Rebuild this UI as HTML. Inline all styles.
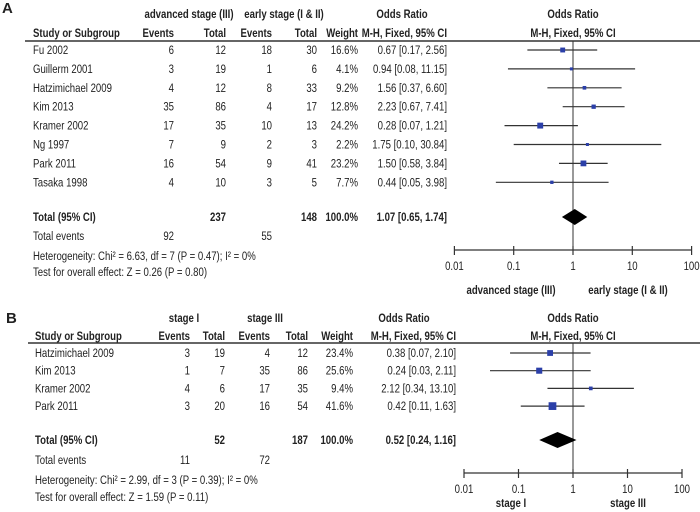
<!DOCTYPE html>
<html><head><meta charset="utf-8">
<style>
html,body{margin:0;padding:0;background:#fff;width:700px;height:512px;overflow:hidden}
svg{display:block}
text{font-family:"Liberation Sans",sans-serif;font-size:12px;fill:#222}
.b{font-weight:bold}
</style></head><body>
<svg id="chart" width="700" height="512" viewBox="0 0 700 512" xmlns="http://www.w3.org/2000/svg"></svg>
<script>
// Panel A data
const studiesA = ["Fu 2002","Guillerm 2001","Hatzimichael 2009","Kim 2013","Kramer 2002","Ng 1997","Park 2011","Tasaka 1998"];
const ev1A = [6,3,4,35,17,7,16,4];
const tot1A = [12,19,12,86,35,9,54,10];
const ev2A = [18,1,8,4,10,2,9,3];
const tot2A = [30,6,33,17,13,3,41,5];
const weightA = [16.6,4.1,9.2,12.8,24.2,2.2,23.2,7.7];
const orA = [0.67,0.94,1.56,2.23,0.28,1.75,1.50,0.44];
const loA = [0.17,0.08,0.37,0.67,0.07,0.10,0.58,0.05];
const hiA = [2.56,11.15,6.60,7.41,1.21,30.84,3.84,3.98];
const totalA = {or:1.07, lo:0.65, hi:1.74, tot1:237, tot2:148, ev1:92, ev2:55};
// Panel B data
const studiesB = ["Hatzimichael 2009","Kim 2013","Kramer 2002","Park 2011"];
const ev1B = [3,1,4,3];
const tot1B = [19,7,6,20];
const ev2B = [4,35,17,16];
const tot2B = [12,86,35,54];
const weightB = [23.4,25.6,9.4,41.6];
const orB = [0.38,0.24,2.12,0.42];
const loB = [0.07,0.03,0.34,0.11];
const hiB = [2.10,2.11,13.10,1.63];
const totalB = {or:0.52, lo:0.24, hi:1.16, tot1:52, tot2:187, ev1:11, ev2:72};
const ticks = [0.01,0.1,1,10,100];
const tickLabels = ["0.01","0.1","1","10","100"];

const svg = document.getElementById('chart');
const NS = "http://www.w3.org/2000/svg";
const SX = 0.8;
function mk(tag, attrs, name){
  const e = document.createElementNS(NS, tag);
  for (const k in attrs) e.setAttribute(k, attrs[k]);
  
  
  svg.appendChild(e); return e;
}
function txt(x,y,s,anchor,bold,name){
  const t = mk('text',{x:0,y:0,'text-anchor':anchor||'start',transform:`translate(${x},${y+4}) scale(${SX},1)`},name);
  if(bold) t.setAttribute('class','b');
  t.textContent = s; return t;
}
const f2 = v => v.toFixed(2);

function panel(P){
  const xs = v => P.x1 + Math.log10(v)*P.dec;
  const L = mk('text',{x:P.labX,y:P.labY+5,'class':'b',style:'font-size:15px'},'panel-label');
  L.textContent = P.label;
  txt(P.c.g1, P.h1, P.g1, 'middle', true, 'group1-header');
  txt(P.c.g2, P.h1, P.g2, 'middle', true, 'group2-header');
  txt(P.c.orc, P.h1, 'Odds Ratio', 'middle', true, 'or-column-header');
  txt(P.x1, P.h1, 'Odds Ratio', 'middle', true, 'plot-header');
  txt(P.c.study, P.h2, 'Study or Subgroup', 'start', true, 'study-header');
  txt(P.c.e1, P.h2, 'Events', 'end', true, 'events1-header');
  txt(P.c.t1, P.h2, 'Total', 'end', true, 'total1-header');
  txt(P.c.e2, P.h2, 'Events', 'end', true, 'events2-header');
  txt(P.c.t2, P.h2, 'Total', 'end', true, 'total2-header');
  txt(P.c.w, P.h2, 'Weight', 'end', true, 'weight-header');
  txt(P.c.or, P.h2, 'M-H, Fixed, 95% CI', 'end', true, 'or-method-header');
  txt(P.x1, P.h2, 'M-H, Fixed, 95% CI', 'middle', true, 'plot-method-header');
  mk('line',{x1:P.lineL,x2:700,y1:P.line,y2:P.line,stroke:'#333','stroke-width':1.5},'header-rule');
  mk('line',{x1:P.x1,x2:P.x1,y1:P.line,y2:P.axis,stroke:'#333','stroke-width':1},'null-line');
  P.studies.forEach((s,i)=>{
    const y = P.row0 + i*P.rs;
    txt(P.c.study,y,s,'start',false,'study-name');
    txt(P.c.e1,y,String(P.ev1[i]),'end',false,'events1');
    txt(P.c.t1,y,String(P.tot1[i]),'end',false,'total1');
    txt(P.c.e2,y,String(P.ev2[i]),'end',false,'events2');
    txt(P.c.t2,y,String(P.tot2[i]),'end',false,'total2');
    txt(P.c.w,y,P.w[i].toFixed(1)+'%','end',false,'weight');
    txt(P.c.or,y,f2(P.or[i])+' ['+f2(P.lo[i])+', '+f2(P.hi[i])+']','end',false,'odds-ratio-ci');
    mk('line',{x1:xs(P.lo[i]),x2:xs(P.hi[i]),y1:y,y2:y,stroke:'#333','stroke-width':1.2},'ci-line');
    const sz = Math.max(3, Math.sqrt(P.w[i])*1.2);
    mk('rect',{x:xs(P.or[i])-sz/2,y:y-sz/2,width:sz,height:sz,fill:'#2b3fa8'},'point-estimate');
  });
  const T = P.total;
  txt(P.c.study,P.tY,'Total (95% CI)','start',true,'total-label');
  txt(P.c.t1,P.tY,String(T.tot1),'end',true,'total1-sum');
  txt(P.c.t2,P.tY,String(T.tot2),'end',true,'total2-sum');
  txt(P.c.w,P.tY,'100.0%','end',true,'total-weight');
  txt(P.c.or,P.tY,f2(T.or)+' ['+f2(T.lo)+', '+f2(T.hi)+']','end',true,'total-or');
  const dx=xs(T.or), h=8;
  mk('polygon',{points:`${xs(T.lo)},${P.tY} ${dx},${P.tY-h} ${xs(T.hi)},${P.tY} ${dx},${P.tY+h}`,fill:'#000'},'pooled-diamond');
  txt(P.c.study,P.teY,'Total events','start',false,'total-events-label');
  txt(P.c.e1,P.teY,String(T.ev1),'end',false,'total-events1');
  txt(P.c.e2,P.teY,String(T.ev2),'end',false,'total-events2');
  txt(P.c.study,P.hetY,P.het,'start',false,'heterogeneity');
  txt(P.c.study,P.testY,P.test,'start',false,'overall-effect');
  mk('line',{x1:xs(0.01),x2:xs(100),y1:P.axis,y2:P.axis,stroke:'#333','stroke-width':1.2},'x-axis');
  ticks.forEach((t,i)=>{
    mk('line',{x1:xs(t),x2:xs(t),y1:P.axis-4,y2:P.axis+5,stroke:'#333','stroke-width':1.2},'x-tick');
    txt(xs(t),P.axis+16,tickLabels[i],'middle',false,'x-tick-label');
  });
  txt(P.x1-62,P.favY,P.fav1,'middle',true,'favours-left');
  txt(P.x1+55,P.favY,P.fav2,'middle',true,'favours-right');
}

panel({label:'A',labX:2,labY:8,g1:'advanced stage (III)',g2:'early stage (I & II)',
  c:{study:33,e1:174,t1:226,e2:272,t2:317,w:358,or:447,g1:189,g2:284,orc:402},
  h1:14,h2:33,line:41,lineL:25,row0:50,rs:18.9,x1:573,dec:59.3,axis:250,
  studies:studiesA,ev1:ev1A,tot1:tot1A,ev2:ev2A,tot2:tot2A,w:weightA,or:orA,lo:loA,hi:hiA,total:totalA,
  tY:217,teY:236,hetY:256,testY:272,
  het:'Heterogeneity: Chi² = 6.63, df = 7 (P = 0.47); I² = 0%',
  test:'Test for overall effect: Z = 0.26 (P = 0.80)',
  fav1:'advanced stage (III)',fav2:'early stage (I & II)',favY:290});

panel({label:'B',labX:6,labY:318,g1:'stage I',g2:'stage III',
  c:{study:35,e1:190,t1:225,e2:270,t2:308,w:353,or:456,g1:184,g2:265,orc:404},
  h1:318,h2:336,line:343,lineL:28,row0:353,rs:17.7,x1:573,dec:54.5,axis:473,
  studies:studiesB,ev1:ev1B,tot1:tot1B,ev2:ev2B,tot2:tot2B,w:weightB,or:orB,lo:loB,hi:hiB,total:totalB,
  tY:440,teY:460,hetY:480,testY:497,
  het:'Heterogeneity: Chi² = 2.99, df = 3 (P = 0.39); I² = 0%',
  test:'Test for overall effect: Z = 1.59 (P = 0.11)',
  fav1:'stage I',fav2:'stage III',favY:503});
</script>
</body></html>
